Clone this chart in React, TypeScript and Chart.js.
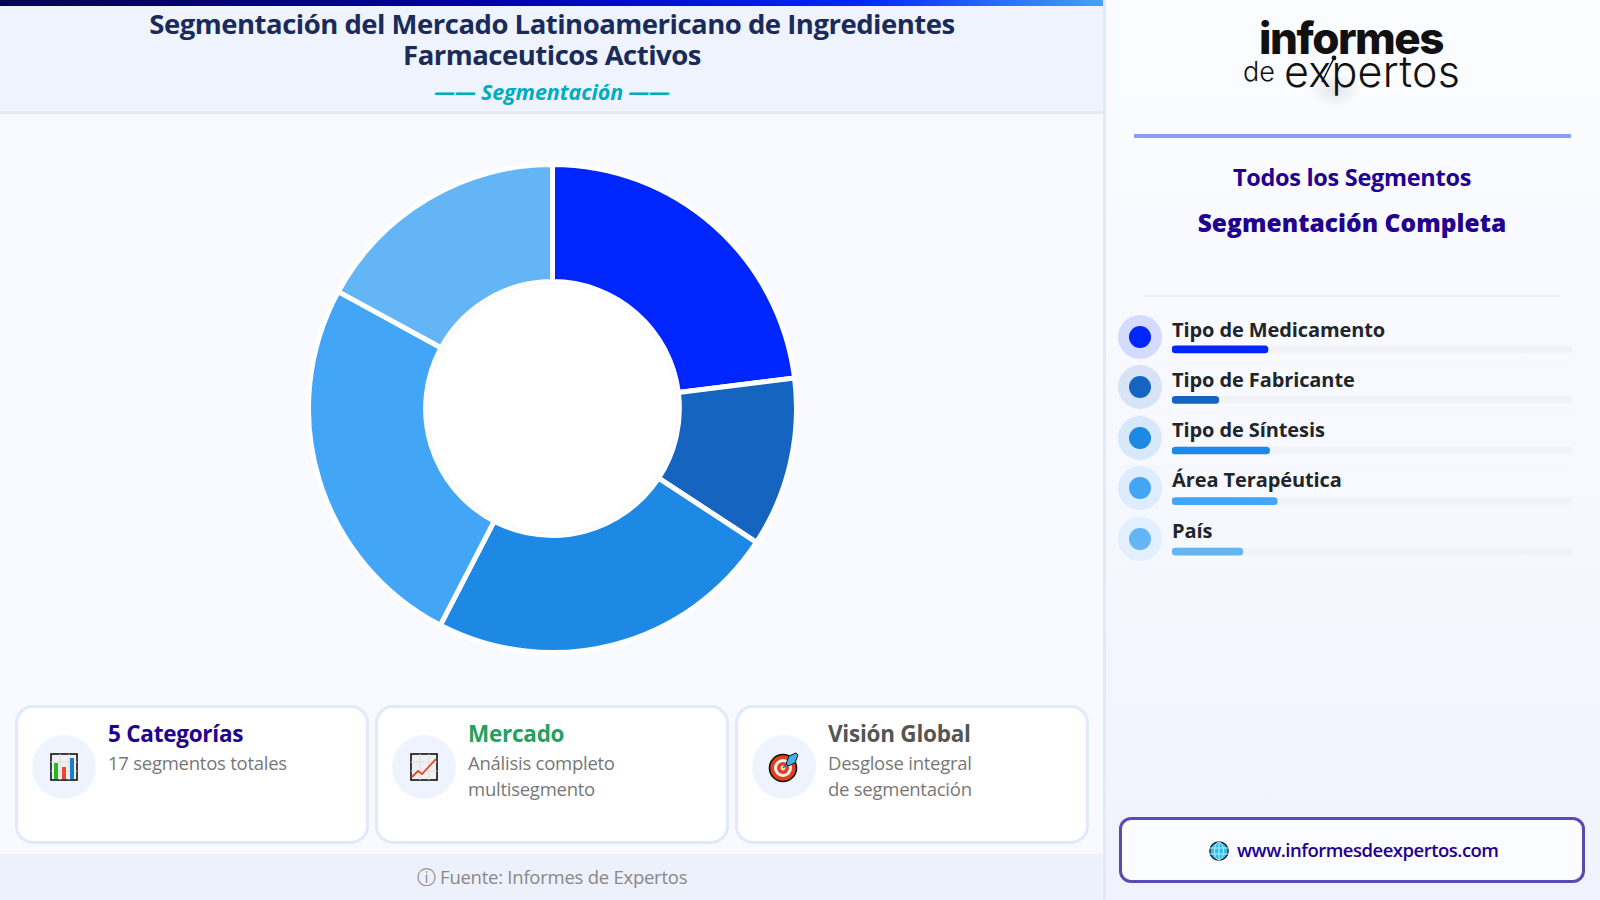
import { useEffect, useRef } from 'react';
import type { CSSProperties } from 'react';
import Chart from 'chart.js/auto';

const categories = ['Tipo de Medicamento', 'Tipo de Fabricante', 'Tipo de Síntesis', 'Área Terapéutica', 'País'];
const donutValues = [23, 11.25, 23.35, 25.35, 17.05];
const barValues = [24, 11.7, 24.4, 26.3, 17.7];
const trackValues = [100, 100, 100, 100, 100];
const sliceColors = ['#0026ff', '#1565c0', '#1e88e5', '#42a5f5', '#64b5f6'];

const FONT = '"Open Sans", sans-serif';
const NAVY = '#22008f';

// white hole in the middle of the donut, follows the arc geometry
const holePlugin = {
  id: 'hole',
  afterDatasetsDraw(chart: Chart) {
    const arc: any = chart.getDatasetMeta(0).data[0];
    const { ctx } = chart;
    ctx.save();
    ctx.beginPath();
    ctx.arc(arc.x, arc.y, arc.innerRadius, 0, Math.PI * 2);
    ctx.fillStyle = '#ffffff';
    ctx.fill();
    ctx.beginPath();
    ctx.arc(arc.x, arc.y, arc.innerRadius - 2, 0, Math.PI * 2);
    ctx.strokeStyle = '#f7f8fc';
    ctx.lineWidth = 1.5;
    ctx.stroke();
    ctx.restore();
  },
};

function DonutChart() {
  const canvasRef = useRef<HTMLCanvasElement>(null);

  useEffect(() => {
    if (!canvasRef.current) return;
    const chart = new Chart(canvasRef.current, {
      type: 'doughnut',
      data: {
        labels: categories,
        datasets: [{ data: donutValues, backgroundColor: sliceColors, borderColor: '#ffffff', borderWidth: 5 }],
      },
      options: {
        animation: false,
        responsive: false,
        cutout: '52%',
        plugins: { legend: { display: false }, tooltip: { enabled: false } },
      },
      plugins: [holePlugin],
    });
    return () => chart.destroy();
  }, []);

  return <canvas ref={canvasRef} width={493} height={493} style={{ position: 'absolute', left: 306, top: 162, width: 493, height: 493 }} />;
}

function ShareBars() {
  const canvasRef = useRef<HTMLCanvasElement>(null);

  useEffect(() => {
    if (!canvasRef.current) return;
    const chart = new Chart(canvasRef.current, {
      type: 'bar',
      data: {
        labels: categories,
        datasets: [
          { data: barValues, backgroundColor: sliceColors, barThickness: 7, borderRadius: 4, borderSkipped: false, grouped: false },
          { data: trackValues, backgroundColor: '#f2f3f9', barThickness: 7, borderRadius: 4, borderSkipped: false, grouped: false },
        ],
      },
      options: {
        indexAxis: 'y',
        animation: false,
        responsive: false,
        scales: {
          x: { display: false, min: 0, max: 100 },
          y: { display: false },
        },
        plugins: { legend: { display: false }, tooltip: { enabled: false } },
      },
    });
    return () => chart.destroy();
  }, []);

  return <canvas ref={canvasRef} width={400} height={253} style={{ position: 'absolute', left: 1172, top: 324, width: 400, height: 253 }} />;
}

const BarsIcon = () => (
  <svg width="28" height="28" viewBox="0 0 28 28" style={{ display: 'block' }}>
    <rect x="1" y="1" width="26" height="26" fill="#f1f1f1" stroke="#111" strokeWidth="1.6" />
    <path d="M1 9h26M1 18h26M10 1v26M19 1v26" stroke="#dedede" strokeWidth="1" />
    <rect x="4" y="10" width="4" height="16" fill="#22b826" />
    <rect x="12" y="14" width="4" height="12" fill="#e8492a" />
    <rect x="20" y="5" width="4" height="21" fill="#1a7fd0" />
  </svg>
);

const LineIcon = () => (
  <svg width="28" height="28" viewBox="0 0 28 28" style={{ display: 'block' }}>
    <rect x="1" y="1" width="26" height="26" fill="#f1f1f1" stroke="#111" strokeWidth="1.6" />
    <path d="M1 9h26M1 18h26M10 1v26M19 1v26" stroke="#dedede" strokeWidth="1" />
    <path d="M2 24l6-6 4 3L26 6" fill="none" stroke="#e0492c" strokeWidth="1.8" />
  </svg>
);

const TargetIcon = () => (
  <svg width="32" height="32" viewBox="0 0 32 32" style={{ display: 'block' }}>
    <circle cx="15" cy="17" r="13.5" fill="#e0401f" stroke="#111" strokeWidth="1.6" />
    <circle cx="15" cy="17" r="9" fill="#fbeee8" />
    <circle cx="15" cy="17" r="6" fill="#e0401f" />
    <circle cx="15" cy="17" r="2.4" fill="#fbeee8" />
    <path d="M15 17L24 8" stroke="#1a6fc0" strokeWidth="1.6" />
    <path d="M18 13l3-8 7-3 2 2-3 8-7 3z" fill="#3fb2ee" stroke="#111" strokeWidth="1" />
  </svg>
);

const GlobeIcon = () => (
  <svg width="20" height="20" viewBox="0 0 20 20" style={{ display: 'block' }}>
    <circle cx="10" cy="10" r="9.2" fill="#2fc0ec" stroke="#111" strokeWidth="1.2" />
    <path d="M1 7h18M1 13h18M10 1v18" stroke="#b8ecfb" strokeWidth="1" />
    <ellipse cx="10" cy="10" rx="4.5" ry="9" fill="none" stroke="#b8ecfb" strokeWidth="1" />
  </svg>
);

const cards = [
  { left: 15, title: '5 Categorías', color: NAVY, lines: ['17 segmentos totales'], icon: <BarsIcon /> },
  { left: 375, title: 'Mercado', color: '#27a05f', lines: ['Análisis completo', 'multisegmento'], icon: <LineIcon /> },
  { left: 735, title: 'Visión Global', color: '#555555', lines: ['Desglose integral', 'de segmentación'], icon: <TargetIcon /> },
];

const abs = (left: number, top: number, extra: CSSProperties = {}): CSSProperties => ({ position: 'absolute', left, top, ...extra });

const centered = (cx: number, cy: number, extra: CSSProperties = {}): CSSProperties => ({
  position: 'absolute',
  left: cx,
  top: cy,
  transform: 'translate(-50%, -50%)',
  whiteSpace: 'nowrap',
  ...extra,
});

export default function App() {
  return (
    <div style={{ position: 'fixed', left: 0, top: 0, width: 1600, height: 900, overflow: 'hidden', background: '#f8faff', fontFamily: FONT }}>
      {/* header */}
      <div style={abs(0, 0, { width: 1103, height: 111, background: '#eef3fe', borderBottom: '3px solid #e4e9f4' })} />
      <div style={abs(0, 0, { width: 1103, height: 6, background: 'linear-gradient(90deg, #06064f 0%, #0000a8 45%, #0026ff 78%, #42a5f5 100%)' })} />
      <div style={centered(552, 23, { fontSize: 27.5, fontWeight: 700, color: '#1a2b5a', letterSpacing: -0.5 })}>Segmentación del Mercado Latinoamericano de Ingredientes</div>
      <div style={centered(552, 54, { fontSize: 27.5, fontWeight: 700, color: '#1a2b5a', letterSpacing: -0.5 })}>Farmaceuticos Activos</div>
      <div style={centered(552, 91, { fontSize: 21.5, fontWeight: 700, fontStyle: 'italic', color: '#00acc1', letterSpacing: -0.1 })}>—— Segmentación ——</div>

      <DonutChart />

      {/* info cards */}
      {cards.map((card) => (
        <div key={card.title} style={abs(card.left, 705, { width: 354, height: 139, boxSizing: 'border-box', background: '#ffffff', border: '3px solid #e3eaf7', borderRadius: 18 })}>
          <div style={abs(14, 27, { width: 64, height: 64, borderRadius: '50%', background: '#eef3fe', display: 'flex', alignItems: 'center', justifyContent: 'center' })}>{card.icon}</div>
          <div style={abs(90, 11, { fontSize: 22.5, fontWeight: 700, color: card.color, lineHeight: '30px', whiteSpace: 'nowrap', letterSpacing: -0.25 })}>{card.title}</div>
          {card.lines.map((line, i) => (
            <div key={line} style={abs(90, 42 + i * 26, { fontSize: 18.5, color: '#777777', lineHeight: '26px', whiteSpace: 'nowrap', letterSpacing: -0.25 })}>{line}</div>
          ))}
        </div>
      ))}

      {/* footer */}
      <div style={abs(0, 854, { width: 1103, height: 46, background: '#edf1fb' })} />
      <div style={centered(552, 877, { fontSize: 18.5, color: '#888888', letterSpacing: -0.25 })}>
        <span style={{ fontFamily: '"DejaVu Sans"' }}>ⓘ</span> Fuente: Informes de Expertos
      </div>

      {/* right panel */}
      <div style={abs(1103, 0, { width: 497, height: 900, boxSizing: 'border-box', background: 'linear-gradient(180deg, #fbfcff 0%, #f6f8ff 60%, #f0f2fd 100%)', borderLeft: '3px solid #e3eaf7' })} />

      {/* logo */}
      <div style={abs(1310, 72, { width: 50, height: 36, background: 'radial-gradient(ellipse at center, rgba(0,0,0,0.09) 0%, rgba(0,0,0,0) 70%)' })} />
      <div style={abs(1259, 11, { fontFamily: 'Inter', fontSize: 44, fontWeight: 800, color: '#111111', letterSpacing: -1.5, lineHeight: '54px' })}>informes</div>
      <div style={abs(1243, 47, { fontFamily: 'Inter', fontSize: 27, fontWeight: 300, color: '#111111', lineHeight: '50px' })}>de</div>
      <div style={abs(1284, 43, { fontFamily: 'Inter', fontSize: 43, fontWeight: 300, color: '#111111', letterSpacing: 0.3, lineHeight: '56px' })}>expertos</div>
      <svg width="40" height="40" style={{ position: 'absolute', left: 1310, top: 50 }}>
        <path d="M12 32L24 8" stroke="#111111" strokeWidth="1.6" />
        <circle cx="24" cy="8" r="2.4" fill="#111111" />
      </svg>

      <div style={abs(1134, 134, { width: 437, height: 4, background: '#8b9df5' })} />
      <div style={centered(1352, 177, { fontSize: 23.5, fontWeight: 700, color: NAVY, letterSpacing: -0.3 })}>Todos los Segmentos</div>
      <div style={centered(1352, 222, { fontSize: 24.5, fontWeight: 800, color: NAVY, letterSpacing: 0.05 })}>Segmentación Completa</div>
      <div style={abs(1144, 295, { width: 416, height: 1.5, background: '#eceff8' })} />

      {/* legend rows */}
      {categories.map((name, i) => (
        <div key={name}>
          <div style={abs(1118, 315 + i * 50.4, { width: 44, height: 44, borderRadius: '50%', background: sliceColors[i] + '24', display: 'flex', alignItems: 'center', justifyContent: 'center' })}>
            <div style={{ width: 22, height: 22, borderRadius: '50%', background: sliceColors[i] }} />
          </div>
          <div style={abs(1172, 315.5 + i * 50.3, { fontSize: 20, fontWeight: 700, color: '#212529', lineHeight: '28px', whiteSpace: 'nowrap', letterSpacing: -0.1 })}>{name}</div>
          {i < categories.length - 1 && <div style={abs(1122, 365 + i * 50.4, { width: 449, height: 1, background: '#f3f5fb' })} />}
        </div>
      ))}
      <ShareBars />

      {/* website */}
      <div style={abs(1119, 817, { width: 466, height: 66, boxSizing: 'border-box', background: '#fbfcff', border: '3px solid #5a4ab5', borderRadius: 12 })} />
      <div style={abs(1209, 841)}><GlobeIcon /></div>
      <div style={abs(1237, 835, { fontSize: 18.5, fontWeight: 600, color: NAVY, lineHeight: '30px', whiteSpace: 'nowrap', letterSpacing: -0.5 })}>www.informesdeexpertos.com</div>
    </div>
  );
}
